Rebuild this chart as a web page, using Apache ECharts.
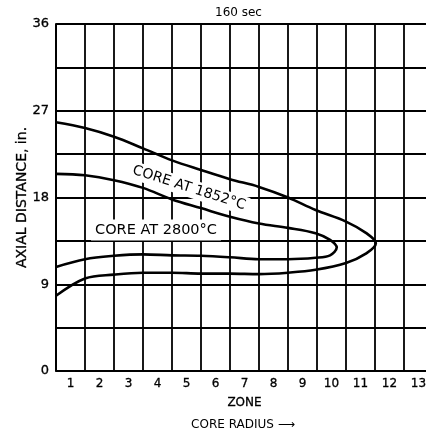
<!DOCTYPE html>
<html>
<head>
<meta charset="utf-8">
<script src="https://cdn.jsdelivr.net/npm/echarts@6/dist/echarts.min.js"></script>
<style>
  html, body { margin: 0; padding: 0; background: #fff; }
  #chart { width: 426px; height: 435px; }
</style>
</head>
<body>
<div id="chart"></div>
<script>
// Zone numbers along the core radius
const zones = ['1','2','3','4','5','6','7','8','9','10','11','12','13'];

// Axial distance ticks (in.)
const axialTicks = [0, 9, 18, 27, 36];

// Isotherm "CORE AT 1852°C": upper branch out to the tip, then lower branch back
const outerZone  = [0.5, 1.5, 2.5, 3.5, 4.5, 5.5, 6.5, 7.5, 8.5, 9.45, 10.5, 11.2, 11.53,
                    11.2, 10.5, 9.45, 8.5, 7.5, 6.5, 5.5, 4.5, 3.5, 2.5, 1.5, 0.5];
const outerAxial = [25.8, 25.2, 24.3, 23.1, 21.85, 20.85, 19.9, 19.1, 18.0, 16.7, 15.5, 14.3, 13.25,
                    12.2, 11.2, 10.5, 10.2, 10.05, 10.1, 10.1, 10.2, 10.2, 10.0, 9.6, 7.8];

// Isotherm "CORE AT 2800°C"
const innerZone  = [0.5, 1.5, 2.5, 3.5, 4.5, 5.5, 6.5, 7.5, 8.5, 9.45, 9.95, 10.18,
                    9.95, 9.45, 8.5, 7.5, 6.5, 5.5, 4.5, 3.5, 2.5, 1.5, 0.5];
const innerAxial = [20.45, 20.3, 19.8, 19.0, 17.8, 16.9, 16.0, 15.3, 14.85, 14.3, 13.6, 12.8,
                    12.0, 11.75, 11.6, 11.6, 11.8, 11.95, 12.0, 12.1, 11.95, 11.6, 10.8];

const zip = (xs, ys) => xs.map((x, i) => [x, ys[i]]);

const FONT = 'DejaVu Sans';
const INK = '#000';
// a hairline outline in the ink colour gives the axis lettering a heavier stroke
const heavyAxis = { textBorderColor: INK, textBorderWidth: 0.3 };

const chart = echarts.init(document.getElementById('chart'), null, { renderer: 'canvas' });

chart.setOption({
  animation: false,
  backgroundColor: '#fff',
  grid: {
    left: 56, top: 24, width: 377, height: 347,
    containLabel: false, outerBoundsMode: 'none'
  },
  xAxis: [
    {
      type: 'category',
      data: zones,
      boundaryGap: true,
      name: 'ZONE',
      nameLocation: 'middle',
      nameGap: 26,
      nameMoveOverlap: false,
      nameTextStyle: Object.assign({ fontFamily: FONT, fontSize: 12, color: INK }, heavyAxis),
      axisLine: { show: true, lineStyle: { color: INK, width: 1.5 } },
      axisTick: { show: false },
      axisLabel: Object.assign({ fontFamily: FONT, fontSize: 12, color: INK, margin: 7 }, heavyAxis),
      splitLine: { show: true, lineStyle: { color: INK, width: 1.8 } }
    },
    {
      type: 'value',
      min: 0.5,
      max: 13.5,
      show: false,
      splitLine: { show: false }
    }
  ],
  yAxis: {
    type: 'value',
    min: 0,
    max: 36,
    interval: 4.5,
    name: 'AXIAL DISTANCE, in.',
    nameLocation: 'middle',
    nameRotate: 90,
    nameGap: 27,
    nameMoveOverlap: false,
    nameTextStyle: Object.assign({ fontFamily: FONT, fontSize: 14, color: INK }, heavyAxis),
    axisLine: { show: true, lineStyle: { color: INK, width: 2 } },
    axisTick: { show: false },
    axisLabel: Object.assign({
      fontFamily: FONT, fontSize: 13, color: INK, margin: 7,
      formatter: v => (axialTicks.indexOf(v) >= 0 ? String(v) : '')
    }, heavyAxis),
    splitLine: { show: true, lineStyle: { color: INK, width: 1.8 } }
  },
  series: [
    {
      name: 'CORE AT 1852°C',
      type: 'line',
      xAxisIndex: 1,
      data: zip(outerZone, outerAxial),
      smooth: 0.35,
      symbol: 'none',
      lineStyle: { color: INK, width: 2.6 },
      z: 3
    },
    {
      name: 'CORE AT 2800°C',
      type: 'line',
      xAxisIndex: 1,
      data: zip(innerZone, innerAxial),
      smooth: 0.35,
      symbol: 'none',
      lineStyle: { color: INK, width: 2.6 },
      z: 3
    }
  ],
  graphic: [
    {
      type: 'text', x: 215, y: 7, z: 10,
      style: { text: '160 sec', font: '12px "DejaVu Sans"', fill: INK }
    },
    {
      type: 'text', x: 189, y: 188, rotation: -0.31, z: 10,
      style: {
        text: 'CORE AT 1852°C', font: '14px "DejaVu Sans"', fill: INK,
        align: 'center', verticalAlign: 'middle',
        backgroundColor: '#fff', padding: [2, 3]
      }
    },
    {
      type: 'text', x: 156, y: 230, z: 10,
      style: {
        text: 'CORE AT 2800°C', font: '14.5px "DejaVu Sans"', fill: INK,
        align: 'center', verticalAlign: 'middle',
        backgroundColor: '#fff', padding: [3, 4]
      }
    },
    {
      type: 'text', x: 243, y: 425, z: 10,
      style: {
        text: 'CORE RADIUS ⟶', font: '12px "DejaVu Sans"', fill: INK,
        align: 'center', verticalAlign: 'middle'
      }
    }
  ]
});
</script>
</body>
</html>
